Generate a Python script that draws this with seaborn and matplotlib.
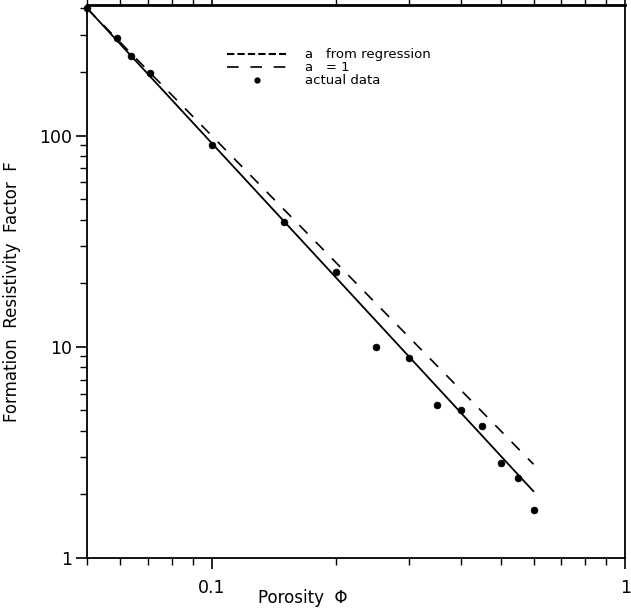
import numpy as np
import pandas as pd
import matplotlib
matplotlib.use("Agg")
import matplotlib.pyplot as plt
from matplotlib.lines import Line2D
from matplotlib.ticker import LogLocator, NullFormatter, FixedLocator, FixedFormatter
import seaborn as sns

# Measured porosity / formation factor pairs
porosity = [0.05, 0.059, 0.064, 0.071, 0.10, 0.15, 0.20, 0.25, 0.30,
            0.35, 0.40, 0.45, 0.50, 0.55, 0.60]
formation_factor = [400, 291, 238, 198, 90, 39, 22.5, 10.0, 8.9,
                    5.3, 5.0, 4.2, 2.83, 2.39, 1.68]

# Archie-type fits F = a / phi^m
a_regression, m_regression = 0.70, 2.12
a_unit, m_unit = 1.0, 2.0
phi_range = [0.05, 0.60]

x_ticks = [0.1, 1]
x_tick_labels = ["0.1", "1"]
y_ticks = [1, 10, 100]
y_tick_labels = ["1", "10", "100"]

sns.set_style("ticks")
plt.rcParams["font.family"] = ["DejaVu Sans"]
plt.rcParams["text.color"] = "black"
plt.rcParams["axes.labelcolor"] = "black"

points = pd.DataFrame({"phi": porosity, "F": formation_factor})
phi_line = np.geomspace(phi_range[0], phi_range[1], 200)
fits = pd.DataFrame({
    "phi": phi_line,
    "regression": a_regression / phi_line ** m_regression,
    "unit": a_unit / phi_line ** m_unit,
})

unit_dashes = [7, 7]

fig = plt.figure(figsize=(6.31, 6.13), dpi=100)
ax = fig.add_axes([0.138, 0.0897, 0.853, 0.902])
ax.set_xscale("log")
ax.set_yscale("log")

sns.lineplot(data=fits, x="phi", y="regression", ax=ax, color="black",
             linewidth=1.3, estimator=None, sort=False)
sns.lineplot(data=fits, x="phi", y="unit", ax=ax, color="black",
             linewidth=1.2, estimator=None, sort=False)
ax.lines[-1].set_dashes(unit_dashes)
sns.scatterplot(data=points, x="phi", y="F", ax=ax, color="black",
                s=24, marker="o", edgecolor="black", linewidth=0.5,
                zorder=5, clip_on=False)

ax.set_xlim(0.05, 1)
ax.set_ylim(1, 415)

ax.xaxis.set_major_locator(FixedLocator(x_ticks))
ax.xaxis.set_major_formatter(FixedFormatter(x_tick_labels))
ax.yaxis.set_major_locator(FixedLocator(y_ticks))
ax.yaxis.set_major_formatter(FixedFormatter(y_tick_labels))
ax.xaxis.set_minor_locator(LogLocator(base=10, subs=np.arange(2, 10)))
ax.yaxis.set_minor_locator(LogLocator(base=10, subs=np.arange(2, 10)))
ax.xaxis.set_minor_formatter(NullFormatter())
ax.yaxis.set_minor_formatter(NullFormatter())

ax.tick_params(which="major", direction="out", length=8, width=1.2,
               labelsize=12.5, colors="black")
ax.tick_params(axis="x", which="major", pad=7)
ax.tick_params(axis="y", which="major", pad=3)
ax.tick_params(which="minor", direction="out", length=5, width=1.0,
               colors="black")
ax.tick_params(which="both", top=True, right=False)
for spine in ax.spines.values():
    spine.set_visible(True)
    spine.set_linewidth(1.3)
    spine.set_color("black")
ax.spines["top"].set_linewidth(2.0)

ax.set_xlabel("Porosity  \u03a6", fontsize=12)
ax.set_ylabel("Formation  Resistivity  Factor  F", fontsize=12)
ax.xaxis.set_label_coords(0.40, -0.056)
ax.yaxis.set_label_coords(-0.122, 0.481)

handles = [
    Line2D([], [], color="black", linewidth=1.5, dashes=[3.5, 1.5]),
    Line2D([], [], color="black", linewidth=1.2, dashes=unit_dashes),
    Line2D([], [], color="black", linestyle="none", marker="o", markersize=3.5),
]
labels = ["a   from regression", "a   = 1", "actual data"]
ax.legend(handles, labels, loc="upper left", bbox_to_anchor=(0.26, 0.922),
          frameon=False, fontsize=9.5, handlelength=4.5, handletextpad=1.4,
          labelspacing=0.0, borderpad=0, borderaxespad=0)

fig.savefig("out.png", dpi=100)
